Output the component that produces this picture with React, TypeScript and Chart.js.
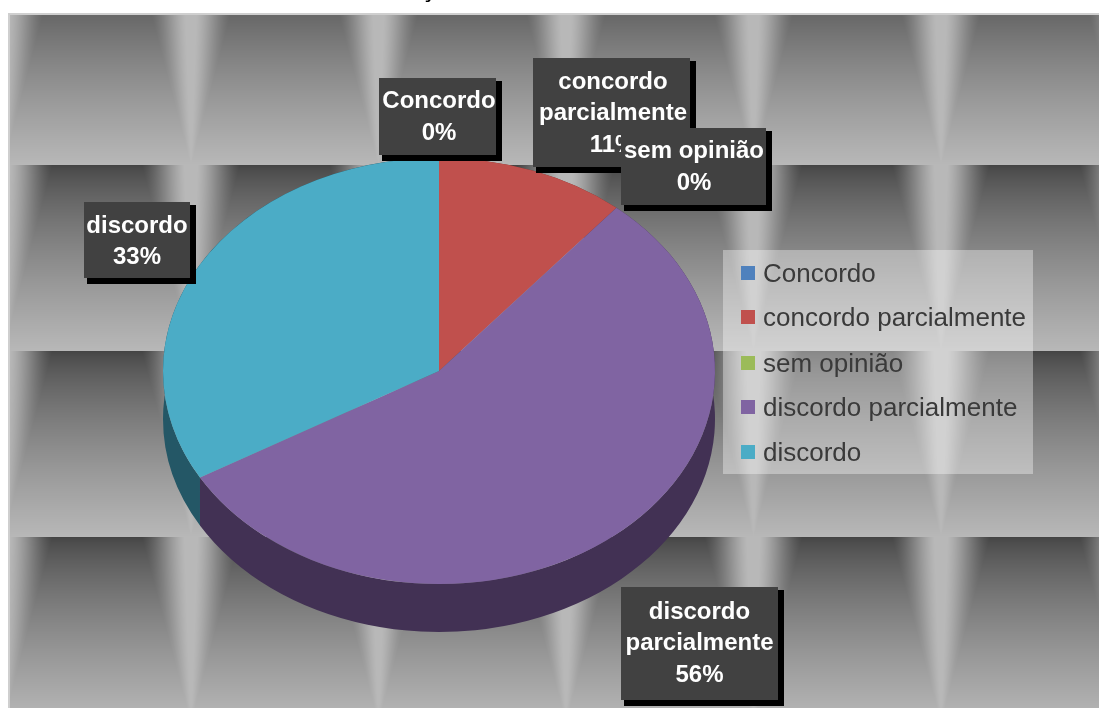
import { useEffect, useRef } from "react";
import { Chart, registerables } from "chart.js";

Chart.register(...registerables);

const categories = ["Concordo", "concordo parcialmente", "sem opinião", "discordo parcialmente", "discordo"];
const responses = [0, 1, 0, 5, 3];
const sliceColors = ["#4F81BD", "#C0504D", "#9BBB59", "#8064A2", "#4BACC6"];
const sideColors = ["#2A4A70", "#703029", "#5B7030", "#423154", "#245766"];
const labelLines = [["Concordo"], ["concordo", "parcialmente"], ["sem opinião"], ["discordo", "parcialmente"], ["discordo"]];
const labelBoxes = [
  [379, 78, 117, 77],
  [533, 58, 157, 109],
  [621, 128, 145, 77],
  [621, 587, 157, 113],
  [84, 202, 106, 76],
];
const labelTextShift = [
  [1.5, 1],
  [1.5, 1],
  [0.5, 1],
  [0, 0],
  [0, 2],
];
const labelOrder = [0, 1, 2, 3, 4];
const legendRowY = [273, 317, 363, 407, 452];

const W = 1099;
const H = 708;
const CX = 439;
const CY = 371;
const SQUASH = 213 / 276;
const DEPTH = 48;
const SANS = '"Liberation Sans", Arial, sans-serif';

function makeBackground() {
  const c = document.createElement("canvas");
  c.width = W;
  c.height = H;
  const g = c.getContext("2d")!;
  const img = g.createImageData(W, H);
  const periodX = 187.5;
  const periodY = 186;
  for (let y = 0; y < H; y++) {
    const t = (((y + 21) % periodY) + periodY) % periodY / periodY;
    const base = 0x44 + (0xb8 - 0x44) * Math.pow(t, 0.72);
    const hw = Math.max(49 * (1 - t), 0.001);
    for (let x = 0; x < W; x++) {
      let dx = ((x - 3) % periodX + periodX) % periodX;
      if (dx > periodX / 2) dx = periodX - dx;
      const u = Math.max(0, 1 - dx / hw);
      const s = Math.min(1, u * 1.15);
      const k = 0.6 * s + 0.4 * s * s * (3 - 2 * s);
      const v = base + (0xb8 - base) * k;
      const i = (y * W + x) * 4;
      img.data[i] = v;
      img.data[i + 1] = v;
      img.data[i + 2] = v;
      img.data[i + 3] = 255;
    }
  }
  g.putImageData(img, 0, 0);
  return c;
}

const squashPlugin = {
  id: "squash",
  beforeDraw(chart: any) {
    const ctx = chart.ctx;
    ctx.save();
    ctx.fillStyle = "#ffffff";
    ctx.fillRect(0, 0, W, H);
    ctx.fillStyle = "#000000";
    ctx.font = `bold 24px ${SANS}`;
    ctx.textAlign = "center";
    ctx.textBaseline = "alphabetic";
    ctx.fillText("ç", 428, -3);
    ctx.beginPath();
    ctx.rect(8, 13, W - 8, H - 13);
    ctx.clip();
    ctx.drawImage(makeBackground(), 0, 0);
    ctx.fillStyle = "#cfcfcf";
    ctx.fillRect(8, 13, W - 8, 2);
    ctx.fillRect(8, 14, 2, H - 14);
    ctx.restore();
  },
  beforeDatasetsDraw(chart: any) {
    const ctx = chart.ctx;
    const arcs = chart.getDatasetMeta(0).data;
    const order = [4, 0, 1, 2, 3];
    ctx.save();
    for (const idx of order) {
      const a = arcs[idx];
      const p = a.getProps(["x", "y", "startAngle", "endAngle", "outerRadius"], true);
      if (p.endAngle - p.startAngle < 1e-6) continue;
      const ry = p.outerRadius * SQUASH;
      ctx.fillStyle = sideColors[idx];
      ctx.beginPath();
      ctx.ellipse(p.x, p.y, p.outerRadius, ry, 0, p.startAngle, p.endAngle);
      ctx.ellipse(p.x, p.y + DEPTH, p.outerRadius, ry, 0, p.endAngle, p.startAngle, true);
      ctx.closePath();
      ctx.fill();
    }
    ctx.restore();
    ctx.save();
    ctx.translate(CX, CY);
    ctx.scale(1, SQUASH);
    ctx.translate(-CX, -CY);
  },
  afterDatasetsDraw(chart: any) {
    const ctx = chart.ctx;
    ctx.restore();
    ctx.save();

    // legend
    ctx.fillStyle = "rgba(255,255,255,0.36)";
    ctx.fillRect(723, 250, 310, 224);
    ctx.textAlign = "left";
    ctx.textBaseline = "middle";
    ctx.font = `26px ${SANS}`;
    chart.data.labels.forEach((name: string, i: number) => {
      ctx.fillStyle = sliceColors[i];
      ctx.fillRect(741, legendRowY[i] - 7, 14, 14);
      ctx.fillStyle = "#3a3a3a";
      ctx.fillText(name, 763, legendRowY[i] + 2);
    });

    // data labels
    const data: number[] = chart.data.datasets[0].data;
    const total = data.reduce((s, v) => s + v, 0);
    ctx.textAlign = "center";
    ctx.font = `bold 24px ${SANS}`;
    for (const i of labelOrder) {
      const [x, y, w, h] = labelBoxes[i];
      ctx.fillStyle = "#000000";
      ctx.fillRect(x + 3, y + 3, w + 3, h + 3);
      ctx.fillStyle = "#414141";
      ctx.fillRect(x, y, w, h);
      const lines = [...labelLines[i], `${Math.round((data[i] / total) * 100)}%`];
      const cy = y + h / 2 + labelTextShift[i][1];
      const cx = x + w / 2 + labelTextShift[i][0];
      ctx.fillStyle = "#ffffff";
      lines.forEach((line, n) => {
        ctx.fillText(line, cx, cy + (n - (lines.length - 1) / 2) * 31.5);
      });
    }
    ctx.restore();
  },
};

export default function App() {
  const ref = useRef<HTMLCanvasElement>(null);
  useEffect(() => {
    const chart = new Chart(ref.current!, {
      type: "pie",
      data: {
        labels: categories,
        datasets: [
          {
            data: responses,
            backgroundColor: sliceColors,
            borderWidth: 0,
            clip: false,
          } as any,
        ],
      },
      options: {
        responsive: false,
        animation: false,
        events: [],
        layout: { padding: { left: 163, right: W - 715, top: CY - 276, bottom: H - CY - 276 } },
        plugins: { legend: { display: false }, tooltip: { enabled: false }, title: { display: false } },
      },
      plugins: [squashPlugin],
    });
    return () => chart.destroy();
  }, []);
  return (
    <div style={{ position: "fixed", left: 0, top: 0, width: W, height: H, overflow: "hidden" }}>
      <canvas ref={ref} width={W} height={H} style={{ display: "block" }} />
    </div>
  );
}
